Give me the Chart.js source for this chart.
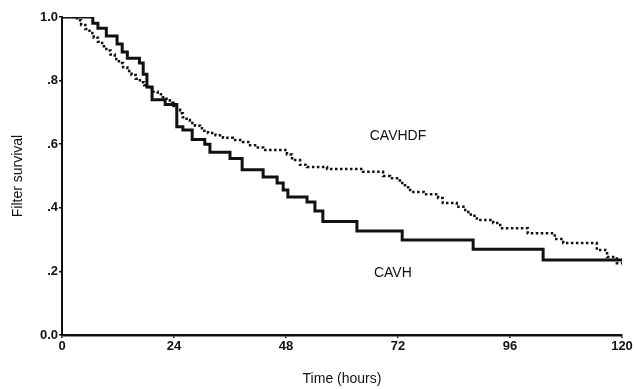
<!DOCTYPE html>
<html>
<head>
<meta charset="utf-8">
<script src="https://cdn.jsdelivr.net/npm/chart.js@4"></script>
<style>
  html, body { margin: 0; padding: 0; background: #fff; }
  #wrap { width: 635px; height: 389px; }
</style>
</head>
<body>
<div id="wrap"><canvas id="grafico" width="635" height="389"></canvas></div>
<script>
// Kaplan-Meier steps: time (hours) and survival after each step
const cavhTempo = [0, 6.6, 7.7, 9.5, 11.8, 12.9, 14, 16.6, 17.4, 18.2, 19.3, 22.1, 24.6, 25.9, 27.9, 30.6, 31.7, 36, 38.6, 43.1, 46.1, 47.4, 48.4, 52.5, 54.2, 55.9, 63.2, 72.9, 88.1, 103.1, 120];
const cavhSobrev = [1.0, 0.98, 0.965, 0.94, 0.915, 0.89, 0.87, 0.855, 0.82, 0.78, 0.74, 0.725, 0.655, 0.645, 0.615, 0.6, 0.575, 0.555, 0.52, 0.497, 0.478, 0.456, 0.434, 0.418, 0.39, 0.357, 0.327, 0.299, 0.27, 0.236, 0.236];

const cavhdfTempo = [0, 3.2, 4.1, 5.0, 5.9, 6.8, 7.7, 8.6, 9.5, 10.4, 11.3, 12.2, 13.1, 14.0, 14.9, 15.8, 16.7, 17.6, 18.5, 19.4, 20.5, 21.6, 22.4, 23.1, 23.9, 24.6, 25.3, 25.9, 26.7, 27.4, 28.5, 29.6, 30.5, 31.3, 32.9, 34.5, 36.6, 38.8, 40.3, 41.7, 43.1, 48.2, 49.3, 51, 52.5, 56.8, 64.5, 68.8, 70.3, 72.4, 73.5, 74.6, 77.5, 80.6, 81.6, 84.6, 86.4, 87.6, 88.9, 92.4, 93.9, 99.8, 105.6, 107.4, 114.6, 116.8, 118.9, 120];
const cavhdfSobrev = [1.0, 0.99, 0.975, 0.962, 0.95, 0.935, 0.922, 0.908, 0.895, 0.882, 0.868, 0.855, 0.842, 0.83, 0.818, 0.806, 0.795, 0.785, 0.775, 0.765, 0.757, 0.748, 0.738, 0.73, 0.72, 0.708, 0.697, 0.685, 0.676, 0.667, 0.658, 0.65, 0.642, 0.635, 0.628, 0.62, 0.613, 0.607, 0.597, 0.59, 0.582, 0.568, 0.55, 0.535, 0.528, 0.522, 0.513, 0.5, 0.493, 0.478, 0.465, 0.45, 0.443, 0.431, 0.415, 0.403, 0.387, 0.375, 0.362, 0.352, 0.336, 0.32, 0.302, 0.289, 0.267, 0.245, 0.226, 0.226];

const xTicks = [0, 24, 48, 72, 96, 120];
const yTicks = [0, 0.2, 0.4, 0.6, 0.8, 1.0];
const yRotulos = ["0.0", ".2", ".4", ".6", ".8", "1.0"];

// series labels placed in data units
const rotulos = [
  { texto: "CAVHDF", x: 72, y: 0.625 },
  { texto: "CAVH", x: 70.9, y: 0.196 }
];

const pontos = (ts, vs) => ts.map((t, i) => ({ x: t, y: vs[i] }));

const rotulosPlugin = {
  id: "rotulos",
  afterDatasetsDraw(chart) {
    const ctx = chart.ctx;
    ctx.save();
    ctx.fillStyle = "#111";
    ctx.font = "14px 'Liberation Sans', Arial, sans-serif";
    ctx.textAlign = "center";
    ctx.textBaseline = "middle";
    rotulos.forEach(r => {
      ctx.fillText(r.texto, chart.scales.x.getPixelForValue(r.x), chart.scales.y.getPixelForValue(r.y));
    });
    ctx.restore();
  }
};

const familia = "'Liberation Sans', Arial, sans-serif";
const fonteTick = { family: familia, size: 13, weight: "bold" };

new Chart(document.getElementById("grafico"), {
  type: "line",
  data: {
    datasets: [
      { label: "CAVH", data: pontos(cavhTempo, cavhSobrev), stepped: true, borderColor: "#111", borderWidth: 3, pointRadius: 0, fill: false },
      { label: "CAVHDF", data: pontos(cavhdfTempo, cavhdfSobrev), stepped: true, borderColor: "#111", borderWidth: 2.5, borderDash: [2.5, 2.5], pointRadius: 0, fill: false }
    ]
  },
  options: {
    responsive: false,
    animation: false,
    layout: { padding: { left: 0, top: 17, right: 13, bottom: 0 } },
    plugins: { legend: { display: false }, tooltip: { enabled: false } },
    scales: {
      x: {
        type: "linear", min: 0, max: 120,
        afterBuildTicks: s => { s.ticks = xTicks.map(v => ({ value: v })); },
        afterFit: s => { s.height = 54; },
        ticks: { color: "#111", font: fonteTick, padding: 1, maxRotation: 0 },
        grid: { drawOnChartArea: false, tickLength: 3, color: "#111", lineWidth: 1.5 },
        border: { display: true, color: "#111", width: 2.5 },
        title: { display: true, text: "Time (hours)", color: "#111", font: { family: familia, size: 14 }, padding: { top: 12, bottom: 1.5 } }
      },
      y: {
        type: "linear", min: 0, max: 1,
        afterBuildTicks: s => { s.ticks = yTicks.map(v => ({ value: v })); },
        afterFit: s => { s.width = 62; },
        ticks: { color: "#111", font: fonteTick, padding: 1, callback: v => yRotulos[yTicks.findIndex(t => Math.abs(t - v) < 1e-6)] },
        grid: { drawOnChartArea: false, tickLength: 3, color: "#111", lineWidth: 1.5 },
        border: { display: true, color: "#111", width: 2 },
        title: { display: true, text: "Filter survival", color: "#111", font: { family: familia, size: 14 }, padding: { top: 9.5, bottom: 0 } }
      }
    }
  },
  plugins: [rotulosPlugin]
});
</script>
</body>
</html>
